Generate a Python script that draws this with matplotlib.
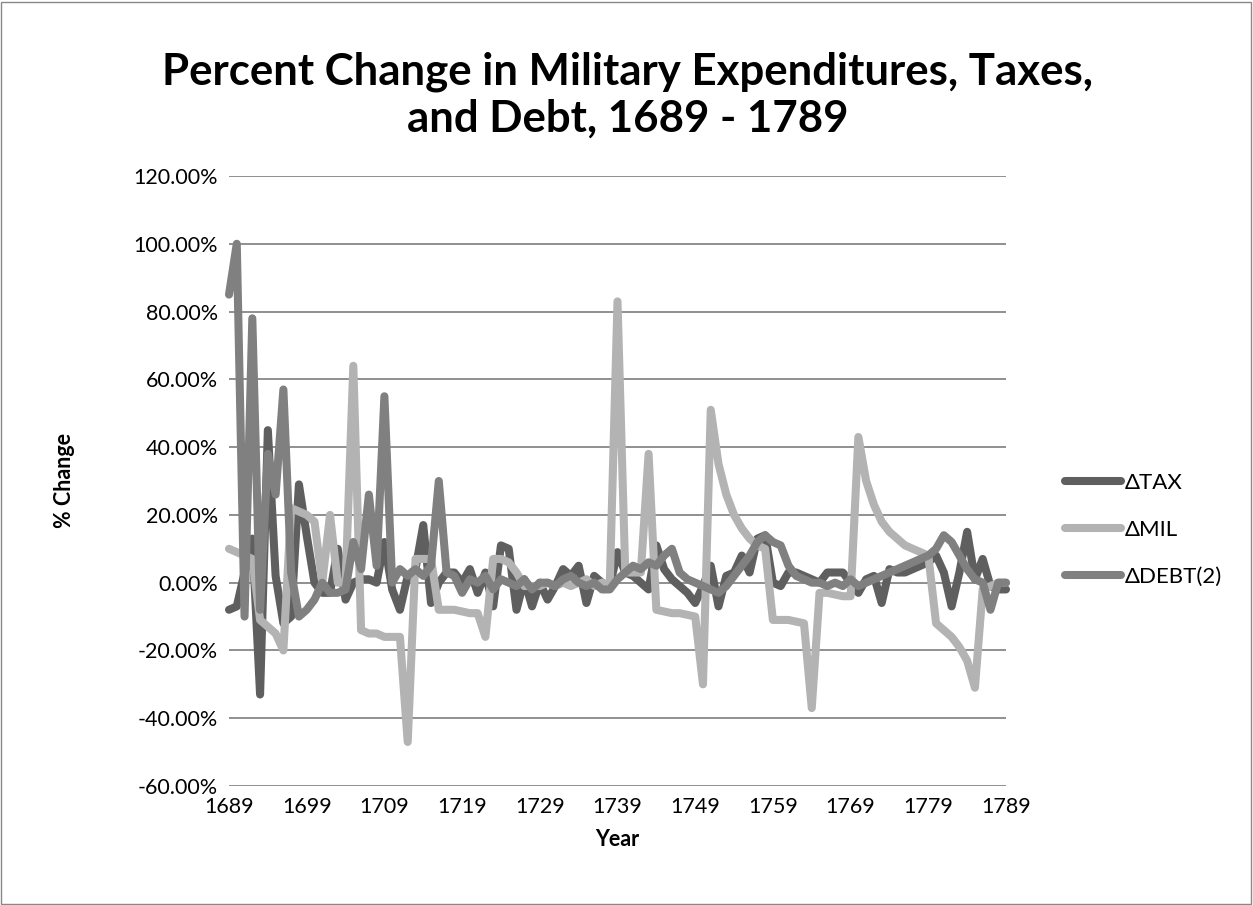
import matplotlib
matplotlib.use("Agg")
import matplotlib.pyplot as plt
from matplotlib.ticker import FuncFormatter, MultipleLocator

years = list(range(1689, 1790))

tax = [-8, -7, 3, 13, -33, 45, 2, -12, -10, 29,
       14, 0, -3, -3, 10, -5, 0, 1, 1, 0,
       12, -2, -8, 2, 4, 17, -6, 0, 3, 3,
       0, 4, -3, 3, -7, 11, 10, -8, 1, -7,
       0, -5, -1, 4, 2, 5, -6, 2, 0, -1,
       9, 3, 2, 0, -2, 11, 4, 1, -1, -3,
       -6, -1, 5, -7, 2, 3, 8, 3, 13, 14,
       0, -1, 3, 3, 2, 1, 0, 3, 3, 3,
       0, -3, 1, 2, -6, 4, 3, 3, 4, 5,
       6, 8, 3, -7, 3, 15, 1, 7, -1, -2,
       -2]

mil = [10, 9, 8, 7, -11, -13, -15, -20, 22, 21,
       20, 18, 0, 20, 0, 0, 64, -14, -15, -15,
       -16, -16, -16, -47, 7, 7, 7, -8, -8, -8,
       -8.5, -9, -9, -16, 7, 7, 6, 3, -1, -1,
       -1, 0, -1, 0, -1, 0, 1, -1, 0, -1,
       83, 3, 3, 3, 38, -8, -8.5, -9, -9, -9.5,
       -10, -30, 51, 35, 26, 20, 16, 13, 11, 10,
       -11, -11, -11, -11.5, -12, -37, -3, -3, -3.5, -4,
       -4, 43, 30, 23, 18, 15, 13, 11, 10, 9,
       8, -12, -14, -16, -19, -23, -31, -2, -1, 0,
       0]

debt = [85, 100, -10, 78, -8, 38, 26, 57, 3, -10,
        -8, -5, 0, -3, -3, -2, 12, 4, 26, 5,
        55, 0, 4, 2, 4, 2, 5, 30, 3, 2,
        -3, 1, 0, 2, -2, 1, 0, -1, 1, -2,
        0, 0, -1, 1, 2, 0, -1, 0, -2, -2,
        1, 3, 5, 4, 6, 5, 8, 10, 3, 1,
        0, -1, -2, -3, -1, 2, 5, 8, 12, 14,
        12, 11, 5, 2, 1, 0, 0, -1, 0, -1,
        1, -1, 0, 1, 2, 3, 4, 5, 6, 7,
        8, 10, 14, 12, 8, 4, 1, 0, -8, 0,
        0]

labels = ["\u0394TAX", "\u0394MIL", "\u0394DEBT(2)"]
colors = ["#5f5f5f", "#b3b3b3", "#808080"]

plt.rcParams['font.family'] = ['Lato', 'DejaVu Sans']

fig = plt.figure(figsize=(12.53, 9.05), dpi=100)
ax = fig.add_axes([229/1253, 1-786/905, (1006-229)/1253, (786-176)/905])

for data, lab, col in zip([tax, mil, debt], labels, colors):
    ax.plot(years, [v/100 for v in data], color=col, lw=5.8, label=lab,
            solid_capstyle='round', solid_joinstyle='round', clip_on=False)

ax.set_xlim(1689, 1789)
ax.set_ylim(-0.6, 1.2)
ax.set_xticks(list(range(1689, 1790, 10)))
ax.yaxis.set_major_locator(MultipleLocator(0.2))
ax.yaxis.set_major_formatter(FuncFormatter(lambda v, p: f"{v*100:.2f}%"))
ax.grid(axis='y', color='#878787', lw=1.3)
ax.set_axisbelow(True)
for s in ax.spines.values():
    s.set_visible(False)
ax.tick_params(axis='y', length=0, labelsize=15.5, pad=8, colors='black')
ax.tick_params(axis='x', length=0, labelsize=15.5, pad=8, colors='black')

ax.set_xlabel("Year", fontsize=15.5, fontweight='bold')
ax.set_ylabel("% Change", fontsize=15.5, fontweight='bold')
ax.xaxis.set_label_coords(0.5, -0.07)
ax.yaxis.set_label_coords(-0.198, 0.5)

fig.text(628/1253, 1-95/905,
         "Percent Change in Military Expenditures, Taxes,\nand Debt, 1689 - 1789",
         ha='center', va='center', fontsize=31.5, fontweight='bold', linespacing=1.2)

leg = ax.legend(loc='center left', bbox_to_anchor=(1.076, 0.42), frameon=False,
                fontsize=16, handlelength=2.5, handletextpad=0.2, labelspacing=1.2,
                borderpad=0, borderaxespad=0)

fig.patches.append(plt.Rectangle((1/1253, 1/905), 1-3/1253, 1-3/905, transform=fig.transFigure,
                                 fill=False, edgecolor='#888888', lw=1))

fig.savefig("out.png", dpi=100)
